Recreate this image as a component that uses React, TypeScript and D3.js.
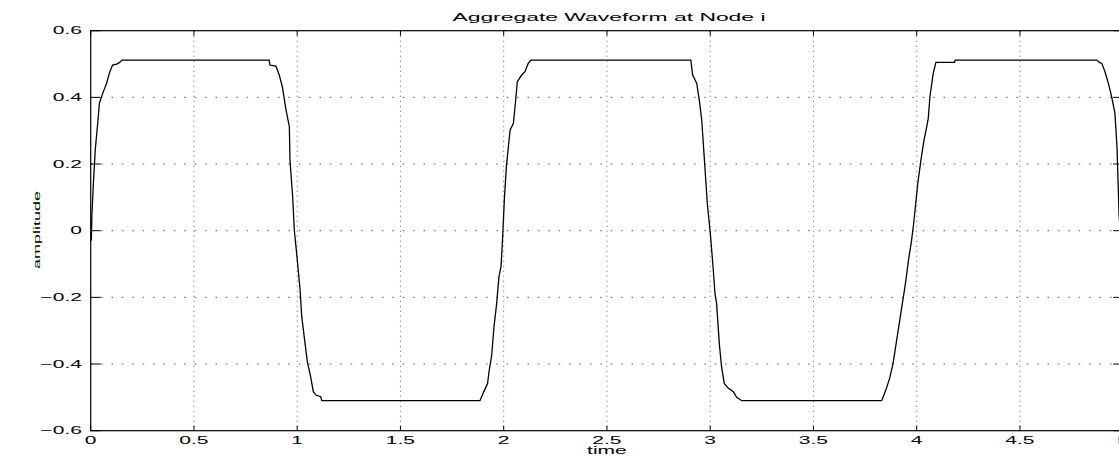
import React from "react";
import * as d3 from "d3";

const titleText = "Aggregate Waveform at Node i";
const xLabel = "time";
const yLabel = "amplitude";
const xTicks = [0, 0.5, 1, 1.5, 2, 2.5, 3, 3.5, 4, 4.5, 5];
const yTicks = [-0.6, -0.4, -0.2, 0, 0.2, 0.4, 0.6];

const time = [
  0, 0.003, 0.006, 0.013, 0.022, 0.035, 0.042, 0.058, 0.077, 0.09, 0.106, 0.126, 0.14, 0.152,
  0.864, 0.868, 0.897, 0.913, 0.928, 0.946, 0.962, 0.965, 0.978, 0.986, 1.002, 1.014, 1.022, 1.038,
  1.049, 1.065, 1.078, 1.091, 1.114, 1.119,
  1.885, 1.893, 1.909, 1.922, 1.93, 1.942, 1.953, 1.966, 1.977, 1.987, 1.995, 2.003, 2.013, 2.021,
  2.031, 2.047, 2.058, 2.066, 2.087, 2.103, 2.119, 2.131,
  2.906, 2.915, 2.935, 2.947, 2.959, 2.972, 2.986, 3.002, 3.015, 3.023, 3.031, 3.044, 3.055, 3.068,
  3.088, 3.112, 3.128, 3.153,
  3.83, 3.84, 3.855, 3.87, 3.885, 3.9, 3.915, 3.93, 3.945, 3.96, 3.975, 3.985, 3.995, 4.005, 4.02,
  4.035, 4.048, 4.056, 4.064, 4.08, 4.093, 4.183, 4.186,
  4.872, 4.885, 4.896, 4.912, 4.928, 4.944, 4.96, 4.97, 4.98, 4.99, 5.0,
];

const amplitude = [
  -0.01, -0.03, 0.05, 0.142, 0.242, 0.33, 0.382, 0.412, 0.442, 0.472, 0.497, 0.5, 0.505, 0.512,
  0.512, 0.497, 0.494, 0.467, 0.432, 0.362, 0.312, 0.212, 0.102, 0.002, -0.098, -0.178, -0.258, -0.338,
  -0.393, -0.438, -0.483, -0.493, -0.498, -0.51,
  -0.51, -0.498, -0.476, -0.458, -0.418, -0.373, -0.288, -0.218, -0.138, -0.108, -0.018, 0.092, 0.192, 0.242,
  0.302, 0.322, 0.392, 0.447, 0.467, 0.477, 0.502, 0.512,
  0.512, 0.467, 0.442, 0.392, 0.332, 0.212, 0.082, -0.018, -0.118, -0.188, -0.218, -0.338, -0.408, -0.458,
  -0.473, -0.483, -0.5, -0.51,
  -0.51, -0.495, -0.47, -0.44, -0.4, -0.34, -0.28, -0.22, -0.16, -0.09, -0.03, 0.02, 0.08, 0.14, 0.21,
  0.27, 0.31, 0.337, 0.402, 0.472, 0.505, 0.505, 0.512,
  0.512, 0.505, 0.502, 0.477, 0.442, 0.402, 0.352, 0.25, 0.05, -0.05, -0.12,
];

const W = 1119;
const H = 458;
const L = 90.7;
const R = 1123.2;
const T = 30.7;
const B = 430.7;
const FONT = "'Liberation Sans', Arial, Helvetica, sans-serif";
const SX = 2.1;

export default function App() {
  const x = d3.scaleLinear().domain([0, 5]).range([L, R]);
  const y = d3.scaleLinear().domain([-0.6, 0.6]).range([B, T]);
  const pts: [number, number][] = time.map((t, i) => [t, amplitude[i]]);
  const line = d3
    .line<[number, number]>()
    .x((d) => x(d[0]))
    .y((d) => y(d[1]));
  const fmt = (v: number) => {
    const s = d3.format("")(Math.round(v * 10) / 10);
    return s.replace("-", "\u2212");
  };

  return (
    <svg
      width={W}
      height={H}
      style={{ position: "absolute", left: 0, top: 0, background: "#fff" }}
    >
      <defs>
        <clipPath id="plot">
          <rect x={L} y={T} width={R - L} height={B - T} />
        </clipPath>
      </defs>
      <rect x={0} y={0} width={W} height={H} fill="#fff" />
      {/* grid */}
      {yTicks
        .filter((v) => v > -0.6 && v < 0.6)
        .map((v) => (
          <line
            key={"gy" + v}
            x1={L}
            x2={R}
            y1={y(v)}
            y2={y(v)}
            stroke="#555"
            strokeWidth={1}
            strokeDasharray="1.5 8.9"
          />
        ))}
      {xTicks
        .filter((v) => v > 0 && v < 5)
        .map((v) => (
          <line
            key={"gx" + v}
            x1={x(v)}
            x2={x(v)}
            y1={T}
            y2={B}
            stroke="#777"
            strokeWidth={1}
            strokeDasharray="1.2 3.8"
          />
        ))}
      {/* data */}
      <path
        d={line(pts) || ""}
        fill="none"
        stroke="#000"
        strokeWidth={1.3}
        clipPath="url(#plot)"
      />
      {/* axes box */}
      <rect x={L} y={T} width={R - L} height={B - T} fill="none" stroke="#000" strokeWidth={1.2} />
      {/* ticks */}
      {xTicks.map((v) => (
        <g key={"tx" + v}>
          <line x1={x(v)} x2={x(v)} y1={B} y2={B - 5} stroke="#000" strokeWidth={1} />
          <line x1={x(v)} x2={x(v)} y1={T} y2={T + 5} stroke="#000" strokeWidth={1} />
          <text
            transform={`translate(${x(v)},${443.5}) scale(${SX},1)`}
            textAnchor="middle"
            fontFamily={FONT}
            fontSize={10}
            fill="#000"
          >
            {fmt(v)}
          </text>
        </g>
      ))}
      {yTicks.map((v) => (
        <g key={"ty" + v}>
          <line x1={L} x2={L + 10} y1={y(v)} y2={y(v)} stroke="#000" strokeWidth={1} />
          <line x1={R} x2={R - 10} y1={y(v)} y2={y(v)} stroke="#000" strokeWidth={1} />
          <text
            transform={`translate(${82},${y(v) + 3.6}) scale(${SX},1)`}
            textAnchor="end"
            fontFamily={FONT}
            fontSize={10}
            fill="#000"
          >
            {fmt(v)}
          </text>
        </g>
      ))}
      {/* title */}
      <text
        transform={`translate(${(L + R) / 2 + 2},${20.7}) scale(${SX},1)`}
        textAnchor="middle"
        fontFamily={FONT}
        fontSize={10.9}
        fill="#000"
      >
        {titleText}
      </text>
      {/* x label */}
      <text
        transform={`translate(${(L + R) / 2},${454}) scale(${SX},1)`}
        textAnchor="middle"
        fontFamily={FONT}
        fontSize={10}
        fill="#000"
      >
        {xLabel}
      </text>
      {/* y label */}
      <text
        transform={`translate(${40},${230}) scale(1,2) rotate(-90)`}
        textAnchor="middle"
        fontFamily={FONT}
        fontSize={9}
        fill="#000"
      >
        {yLabel}
      </text>
    </svg>
  );
}
